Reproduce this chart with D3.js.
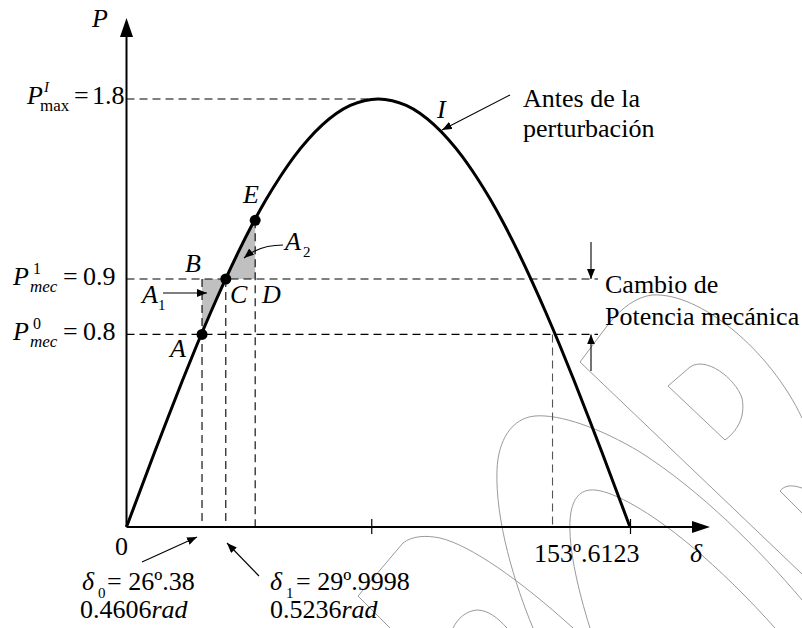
<!DOCTYPE html>
<html><head><meta charset="utf-8">
<script src="https://cdn.jsdelivr.net/npm/d3@7"></script>
<style>
body{margin:0;background:#fff}
svg{display:block}
</style>
</head><body>
<script>
// ---------- data ----------
const deltaDeg = [0,5,10,15,20,25,30,35,40,45,50,55,60,65,70,75,80,85,90,95,100,105,110,115,120,125,130,135,140,145,150,155,160,165,170,175,180];
const powerPU  = [0,0.157,0.313,0.466,0.616,0.761,0.900,1.032,1.157,1.273,1.379,1.474,1.559,1.631,1.691,1.739,1.773,1.793,1.800,1.793,1.773,1.739,1.691,1.631,1.559,1.474,1.379,1.273,1.157,1.032,0.900,0.761,0.616,0.466,0.313,0.157,0];
const pMax = 1.8;
const pMecLevels = [0.81, 1.043];          // drawn levels of P_mec^0 and P_mec^1
const pMecLabels = ["0.8", "0.9"];
const pointNames = ["A", "C", "E"];
const pointDelta = [27.0, 35.5, 46.0];
const pointP     = [0.81, 1.043, 1.29];
const crossDelta = 152.3;                    // second crossing with P_mec^0
const peakTickDelta = 87.5;
const xTickValues = [peakTickDelta, 180];
const xTickLabels = ["0", "153º.6123"];

// ---------- layout ----------
const W = 802, H = 628;
const FONT = "'Liberation Serif', 'Times New Roman', Tinos, 'DejaVu Serif', serif";
const x = d3.scaleLinear().domain([0, 180]).range([126.5, 630]);
const y = d3.scaleLinear().domain([0, pMax]).range([527, 99]);
const xAxisTip = 710, yAxisTop = 18, levelDashEnd = 598;

const svg = d3.select("body").append("svg").attr("width", W).attr("height", H);
const defs = svg.append("defs");
defs.append("marker").attr("id","ah").attr("viewBox","0 0 10 8").attr("refX",10).attr("refY",4)
  .attr("markerWidth",10).attr("markerHeight",8).attr("markerUnits","userSpaceOnUse").attr("orient","auto")
  .append("path").attr("d","M0,0 L10,4 L0,8 Z").attr("fill","#000");

// ---------- watermark (decorative outlines) ----------
const wm = svg.append("g").attr("fill","none").attr("stroke","#9a9a9a").attr("stroke-width",1);
[
 "M802,418 C770,350 700,292 652,295 C636,297 622,308 610,322 L580,362 L802,574",
 "M668,386 L690,367 C706,356 735,378 742,398 C746,418 736,432 725,440 Z",
 "M533,628 C515,585 495,520 497,470 C498,440 512,418 535,416 C560,414 600,428 640,452 C700,490 760,550 802,600",
 "M590,628 C578,590 566,540 571,512 C574,496 582,489 595,490 C615,492 650,512 690,545 C720,570 750,600 775,628",
 "M390,628 L358,596 L403,543 C412,536 425,535 440,538 C470,545 520,580 573,628",
 "M453,628 C458,618 466,611 477,610 C488,610 498,618 507,628",
 "M802,513 L780,491 C784,486 790,484 802,488"
].forEach(d => wm.append("path").attr("d", d));

// ---------- shaded areas A1, A2 ----------
const lineGen = d3.line().x(d => x(d[0])).y(d => y(d[1]));
const samplesBetween = (a, b) => deltaDeg.map((d,i)=>[d,powerPU[i]]).filter(p => p[0] > a && p[0] < b);
const a1 = [[pointDelta[0], pointP[0]], [pointDelta[0], pointP[1]], [pointDelta[1], pointP[1]],
            ...samplesBetween(pointDelta[0], pointDelta[1]).reverse()];
const a2 = [[pointDelta[1], pointP[1]], [pointDelta[2], pointP[1]], [pointDelta[2], pointP[2]],
            ...samplesBetween(pointDelta[1], pointDelta[2]).reverse()];
[a1, a2].forEach(poly => svg.append("path").attr("d", lineGen(poly) + "Z").attr("fill", "#c0c0c0").attr("stroke","none"));

// ---------- dashed guide lines ----------
const dash = svg.append("g").attr("fill","none").attr("stroke","#000").attr("stroke-width",1.1).attr("stroke-dasharray","8,5");
dash.append("line").attr("x1", x(0)).attr("x2", x(peakTickDelta)).attr("y1", y(pMax)).attr("y2", y(pMax));
pMecLevels.forEach(p => dash.append("line").attr("x1", x(0)).attr("x2", levelDashEnd).attr("y1", y(p)).attr("y2", y(p)));
dash.append("line").attr("x1", x(pointDelta[0])).attr("x2", x(pointDelta[0])).attr("y1", y(pointP[1])).attr("y2", y(0));
dash.append("line").attr("x1", x(pointDelta[1])).attr("x2", x(pointDelta[1])).attr("y1", y(pointP[1])).attr("y2", y(0));
dash.append("line").attr("x1", x(pointDelta[2])).attr("x2", x(pointDelta[2])).attr("y1", y(pointP[2])).attr("y2", y(0));
dash.append("line").attr("x1", x(crossDelta)).attr("x2", x(crossDelta)).attr("y1", y(pMecLevels[0])).attr("y2", y(0)).attr("stroke","#555");

// ---------- axes ----------
const axG = svg.append("g").attr("transform", `translate(0,${y(0)})`)
  .call(d3.axisBottom(x).tickValues(xTickValues).tickSizeInner(7).tickSizeOuter(0).tickFormat(""));
axG.select(".domain").remove();
axG.selectAll(".tick line").attr("y1", -8).attr("y2", 7).attr("stroke","#000").attr("stroke-width",1.2);
svg.append("line").attr("x1", x(0)).attr("x2", xAxisTip - 14).attr("y1", y(0)).attr("y2", y(0)).attr("stroke","#000").attr("stroke-width",2);
svg.append("path").attr("d", `M${xAxisTip},${y(0)} L${xAxisTip-18},${y(0)-6} L${xAxisTip-18},${y(0)+6} Z`).attr("fill","#000");
svg.append("line").attr("x1", x(0)).attr("x2", x(0)).attr("y1", y(0)).attr("y2", yAxisTop + 14).attr("stroke","#000").attr("stroke-width",2);
svg.append("path").attr("d", `M${x(0)},${yAxisTop} L${x(0)-6.5},${yAxisTop+19} L${x(0)+6.5},${yAxisTop+19} Z`).attr("fill","#000");

// ---------- curve ----------
svg.append("path").datum(deltaDeg.map((d,i)=>[d,powerPU[i]]))
  .attr("d", d3.line().x(d=>x(d[0])).y(d=>y(d[1])).curve(d3.curveNatural))
  .attr("fill","none").attr("stroke","#000").attr("stroke-width",3).attr("stroke-linejoin","round");

// ---------- points ----------
svg.selectAll("circle.pt").data(pointNames).join("circle").attr("class","pt")
  .attr("cx", (d,i)=>x(pointDelta[i])).attr("cy", (d,i)=>y(pointP[i])).attr("r", 5.5).attr("fill","#000");

// ---------- text helper ----------
function T(px, py, parts, size){
  const t = svg.append("text").attr("x", px).attr("y", py)
    .attr("font-family", FONT).attr("font-size", size || 26).attr("fill", "#000");
  parts.forEach(p => {
    const s = t.append("tspan").text(p.t);
    if (p.i) s.attr("font-style","italic");
    if (p.x !== undefined) s.attr("x", p.x);
    if (p.y !== undefined) s.attr("y", p.y);
    if (p.s) s.attr("font-size", p.s);
  });
  return t;
}

// axis names
T(92, 27, [{t:"P", i:1}]);
T(690, 562, [{t:"δ", i:1}]);

// P max label
T(27, 104, [{t:"P", i:1}, {t:"I", i:1, x:44, y:92, s:15}, {t:"max", x:40, y:111, s:17}, {t:"=", x:74, y:104}, {t:"1.8", x:92, y:104}]);
// P mec labels
const supMec = ["0", "1"];
pMecLevels.forEach((p, k) => {
  const by = y(p) + 6;
  T(13, by, [{t:"P", i:1}, {t:supMec[k], x:33, y:by-11, s:16}, {t:"mec", i:1, x:30, y:by+7, s:17},
             {t:"=", x:63, y:by}, {t:pMecLabels[k], x:83, y:by}]);
});

// point and area labels
T(170, 357, [{t:"A", i:1}]);
T(185, 272, [{t:"B", i:1}]);
T(230, 303, [{t:"C", i:1}]);
T(262, 303, [{t:"D", i:1}]);
T(243, 203, [{t:"E", i:1}]);
T(142, 303, [{t:"A", i:1}, {t:"1", x:158, y:310, s:15}]);
T(285, 250, [{t:"A", i:1}, {t:"2", x:303, y:257, s:15}]);
T(437, 118, [{t:"I", i:1}]);

// annotation arrows
const arr = svg.append("g").attr("fill","none").attr("stroke","#000").attr("stroke-width",1.1);
arr.append("line").attr("x1",163).attr("y1",293).attr("x2",207).attr("y2",293).attr("marker-end","url(#ah)");
arr.append("path").attr("d","M283,245 C270,245 256,248 244,258").attr("marker-end","url(#ah)");
arr.append("line").attr("x1",510).attr("y1",95).attr("x2",442).attr("y2",130).attr("marker-end","url(#ah)");
arr.append("line").attr("x1",591).attr("y1",242).attr("x2",591).attr("y2",y(pMecLevels[1])).attr("marker-end","url(#ah)");
arr.append("line").attr("x1",591).attr("y1",371).attr("x2",591).attr("y2",y(pMecLevels[0])).attr("marker-end","url(#ah)");
arr.append("line").attr("x1",142).attr("y1",562).attr("x2",197).attr("y2",537).attr("marker-end","url(#ah)");
arr.append("line").attr("x1",259).attr("y1",576).attr("x2",227).attr("y2",543).attr("marker-end","url(#ah)");

// right-hand notes
T(523, 107, [{t:"Antes de la"}]);
T(523, 137, [{t:"perturbación"}]);
T(605, 293, [{t:"Cambio de"}]);
T(605, 325, [{t:"Potencia mecánica"}]);

// axis value labels
T(115, 555, [{t:xTickLabels[0]}]);
T(534, 562, [{t:xTickLabels[1]}]);

// delta annotations
T(82, 590, [{t:"δ", i:1}, {t:"0", x:98, y:598, s:15}, {t:"= 26º.38", x:107, y:590}]);
T(80, 618, [{t:"0.4606"}, {t:"rad", i:1}]);
T(270, 590, [{t:"δ", i:1}, {t:"1", x:286, y:598, s:15}, {t:"= 29º.9998", x:296, y:590}]);
T(270, 618, [{t:"0.5236"}, {t:"rad", i:1}]);
</script>
</body></html>
